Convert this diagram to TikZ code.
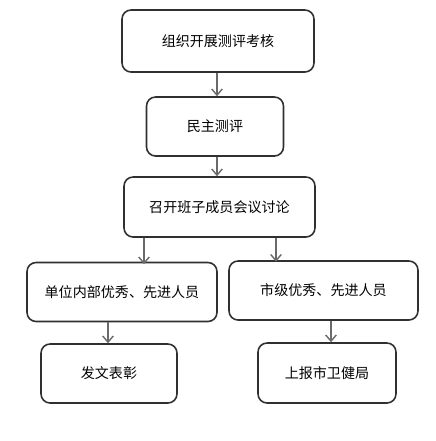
\documentclass[tikz,border=0pt]{standalone}
\usepackage{fontspec}
\setmainfont{Noto Sans CJK SC}
\usetikzlibrary{arrows.meta, positioning}

\definecolor{boxline}{HTML}{303030}
\definecolor{arrline}{HTML}{6A6A6A}

\tikzset{
  stagebox/.style={draw=boxline, line width=0.9pt, rounded corners=0.18cm, fill=white,
    inner sep=0pt, font=\fontsize{8}{10}\selectfont},
  flowarrow/.style={draw=arrline, line width=0.8pt, -{Straight Barb[length=3.5pt,width=6pt]}}
}

\begin{document}
\begin{tikzpicture}[x=0.02cm, y=-0.02cm]
    \useasboundingbox (0,0) rectangle (436,441);

    % top: organise + democratic assessment
    \node[stagebox, minimum width=3.84cm, minimum height=1.24cm] (organise) at (218,41) {组织开展测评考核};
    \node[stagebox, minimum width=2.74cm, minimum height=1.18cm] (democ) at (215,126.5) {民主测评};

    % meeting
    \node[stagebox, minimum width=3.82cm, minimum height=1.20cm] (meeting) at (219.5,207) {召开班子成员会议讨论};

    % two branches
    \node[stagebox, minimum width=3.80cm, minimum height=1.18cm] (internal) at (122,292) {单位内部优秀、先进人员};
    \node[stagebox, minimum width=3.78cm, minimum height=1.18cm] (city) at (323.5,290.5) {市级优秀、先进人员};

    % results
    \node[stagebox, minimum width=2.72cm, minimum height=1.18cm] (commend) at (109,373.5) {发文表彰};
    \node[stagebox, minimum width=2.76cm, minimum height=1.20cm] (report) at (327,373) {上报市卫健局};

    % arrows
    \draw[flowarrow] (organise.south -| 217,0) -- (democ.north -| 217,0);
    \draw[flowarrow] (democ.south -| 217,0) -- (meeting.north -| 217,0);
    \draw[flowarrow] (meeting.south -| 144,0) -- ([yshift=-0.05cm]internal.north -| 144,0);
    \draw[flowarrow] (meeting.south -| 276,0) -- ([yshift=-0.03cm]city.north -| 276,0);
    \draw[flowarrow] (internal.south -| 108,0) -- (commend.north -| 108,0);
    \draw[flowarrow] (city.south -| 331,0) -- (report.north -| 331,0);
\end{tikzpicture}
\end{document}
